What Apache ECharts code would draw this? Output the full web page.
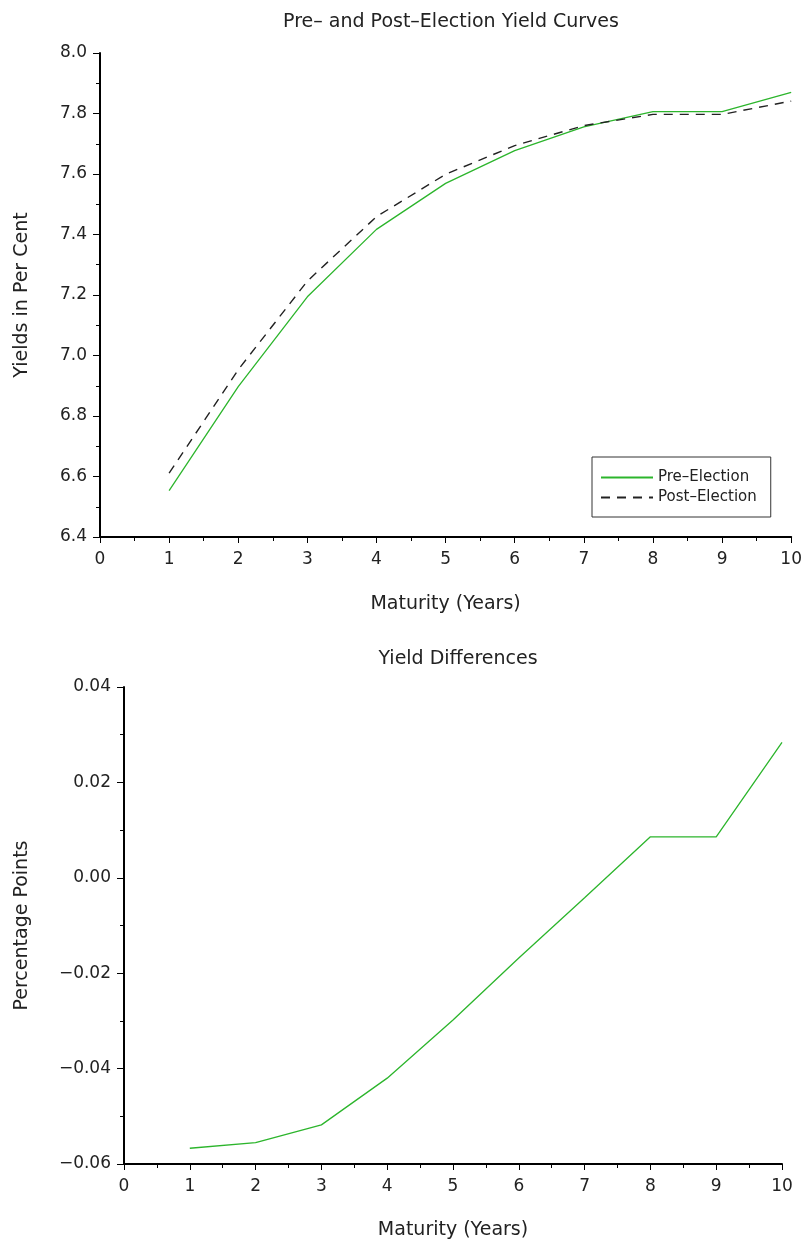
<!DOCTYPE html>
<html>
<head>
<meta charset="utf-8">
<script src="https://cdn.jsdelivr.net/npm/echarts@6/dist/echarts.min.js"></script>
<style>
html,body{margin:0;padding:0;background:#fff;}
#chart{width:805px;height:1245px;}
</style>
</head>
<body>
<div id="chart"></div>
<script>
// Data
const maturities = [1, 2, 3, 4, 5, 6, 7, 8, 9, 10];
const preElection = [6.553, 6.897, 7.194, 7.417, 7.569, 7.677, 7.756, 7.806, 7.806, 7.870];
const postElection = [6.611, 6.953, 7.246, 7.459, 7.599, 7.694, 7.760, 7.797, 7.797, 7.841];
const yieldDiff = [-0.0567, -0.0555, -0.0518, -0.0420, -0.0298, -0.0168, -0.0042, 0.0086, 0.0086, 0.0284];

const FONT = 'DejaVu Sans';
const TXT = '#222';
const GREEN = '#2cb52c';

function pairs(xs, ys){ return xs.map((x,i)=>[x, ys[i]]); }

const chart = echarts.init(document.getElementById('chart'), null, {renderer:'canvas'});

function xAxisCfg(gridIndex, nameGap){
  return {
    type:'value', gridIndex, min:0, max:10, interval:1,
    name:'Maturity (Years)', nameLocation:'middle', nameGap,
    nameTextStyle:{fontFamily:FONT, fontSize:19, color:TXT},
    axisLine:{onZero:false, lineStyle:{color:'#000', width:2}},
    axisTick:{show:true, length:6, lineStyle:{color:'#000', width:1}},
    minorTick:{show:true, splitNumber:2, length:4, lineStyle:{color:'#000', width:1}},
    splitLine:{show:false},
    axisLabel:{fontFamily:FONT, fontSize:17, color:TXT, margin:14, showMaxLabel:true, showMinLabel:true}
  };
}

const option = {
  backgroundColor:'#fff',
  animation:false,
  title:[
    {text:'Pre\u2013 and Post\u2013Election Yield Curves', left:446, top:8, textAlign:'center',
     textStyle:{fontFamily:FONT, fontSize:19, fontWeight:'normal', color:TXT}},
    {text:'Yield Differences', left:453, top:645, textAlign:'center',
     textStyle:{fontFamily:FONT, fontSize:19, fontWeight:'normal', color:TXT}}
  ],
  legend:{
    show:true, left:592, top:457, orient:'vertical',
    data:['Pre\u2013Election','Post\u2013Election'],
    itemWidth:52, itemHeight:14, itemGap:5,
    padding:[13,14,12,8],
    borderColor:'#333', borderWidth:1,
    itemStyle:{color:'rgba(0,0,0,0)', borderWidth:0, opacity:0},
    textStyle:{fontFamily:FONT, fontSize:15, color:TXT}
  },
  grid:[
    {left:100, top:53, width:692, height:484, containLabel:false},
    {left:124, top:687, width:658, height:477, containLabel:false}
  ],
  xAxis:[xAxisCfg(0, 58), xAxisCfg(1, 57)],
  yAxis:[
    {type:'value', gridIndex:0, min:6.4, max:8.0, interval:0.2,
     name:'Yields in Per Cent', nameLocation:'middle', nameGap:68,
     nameTextStyle:{fontFamily:FONT, fontSize:19, color:TXT},
     axisLine:{show:true, lineStyle:{color:'#000', width:2}},
     axisTick:{show:true, length:7, lineStyle:{color:'#000', width:1}},
     minorTick:{show:true, splitNumber:2, length:4, lineStyle:{color:'#000', width:1}},
     splitLine:{show:false},
     axisLabel:{fontFamily:FONT, fontSize:17, color:TXT, margin:13,
       formatter:v=>v.toFixed(1)}},
    {type:'value', gridIndex:1, min:-0.06, max:0.04, interval:0.02,
     name:'Percentage Points', nameLocation:'middle', nameGap:92,
     nameTextStyle:{fontFamily:FONT, fontSize:19, color:TXT},
     axisLine:{show:true, lineStyle:{color:'#000', width:2}},
     axisTick:{show:true, length:7, lineStyle:{color:'#000', width:1}},
     minorTick:{show:true, splitNumber:2, length:4, lineStyle:{color:'#000', width:1}},
     splitLine:{show:false},
     axisLabel:{fontFamily:FONT, fontSize:17, color:TXT, margin:13,
       formatter:v=>{const s=Math.abs(v).toFixed(2); return (v< -1e-9 ? '\u2212' : '') + s;}}}
  ],
  series:[
    {name:'Pre\u2013Election', type:'line', xAxisIndex:0, yAxisIndex:0,
     data:pairs(maturities, preElection), symbol:'none', showSymbol:false,
     lineStyle:{color:GREEN, width:1.3}, itemStyle:{color:GREEN}},
    {name:'Post\u2013Election', type:'line', xAxisIndex:0, yAxisIndex:0,
     data:pairs(maturities, postElection), symbol:'none', showSymbol:false,
     lineStyle:{color:'#222', width:1.4, type:[9,7]}, itemStyle:{color:'#222'}},
    {name:'Difference', type:'line', xAxisIndex:1, yAxisIndex:1,
     data:pairs(maturities, yieldDiff), symbol:'none', showSymbol:false,
     lineStyle:{color:GREEN, width:1.3}, itemStyle:{color:GREEN}}
  ]
};
chart.setOption(option);
</script>
</body>
</html>
